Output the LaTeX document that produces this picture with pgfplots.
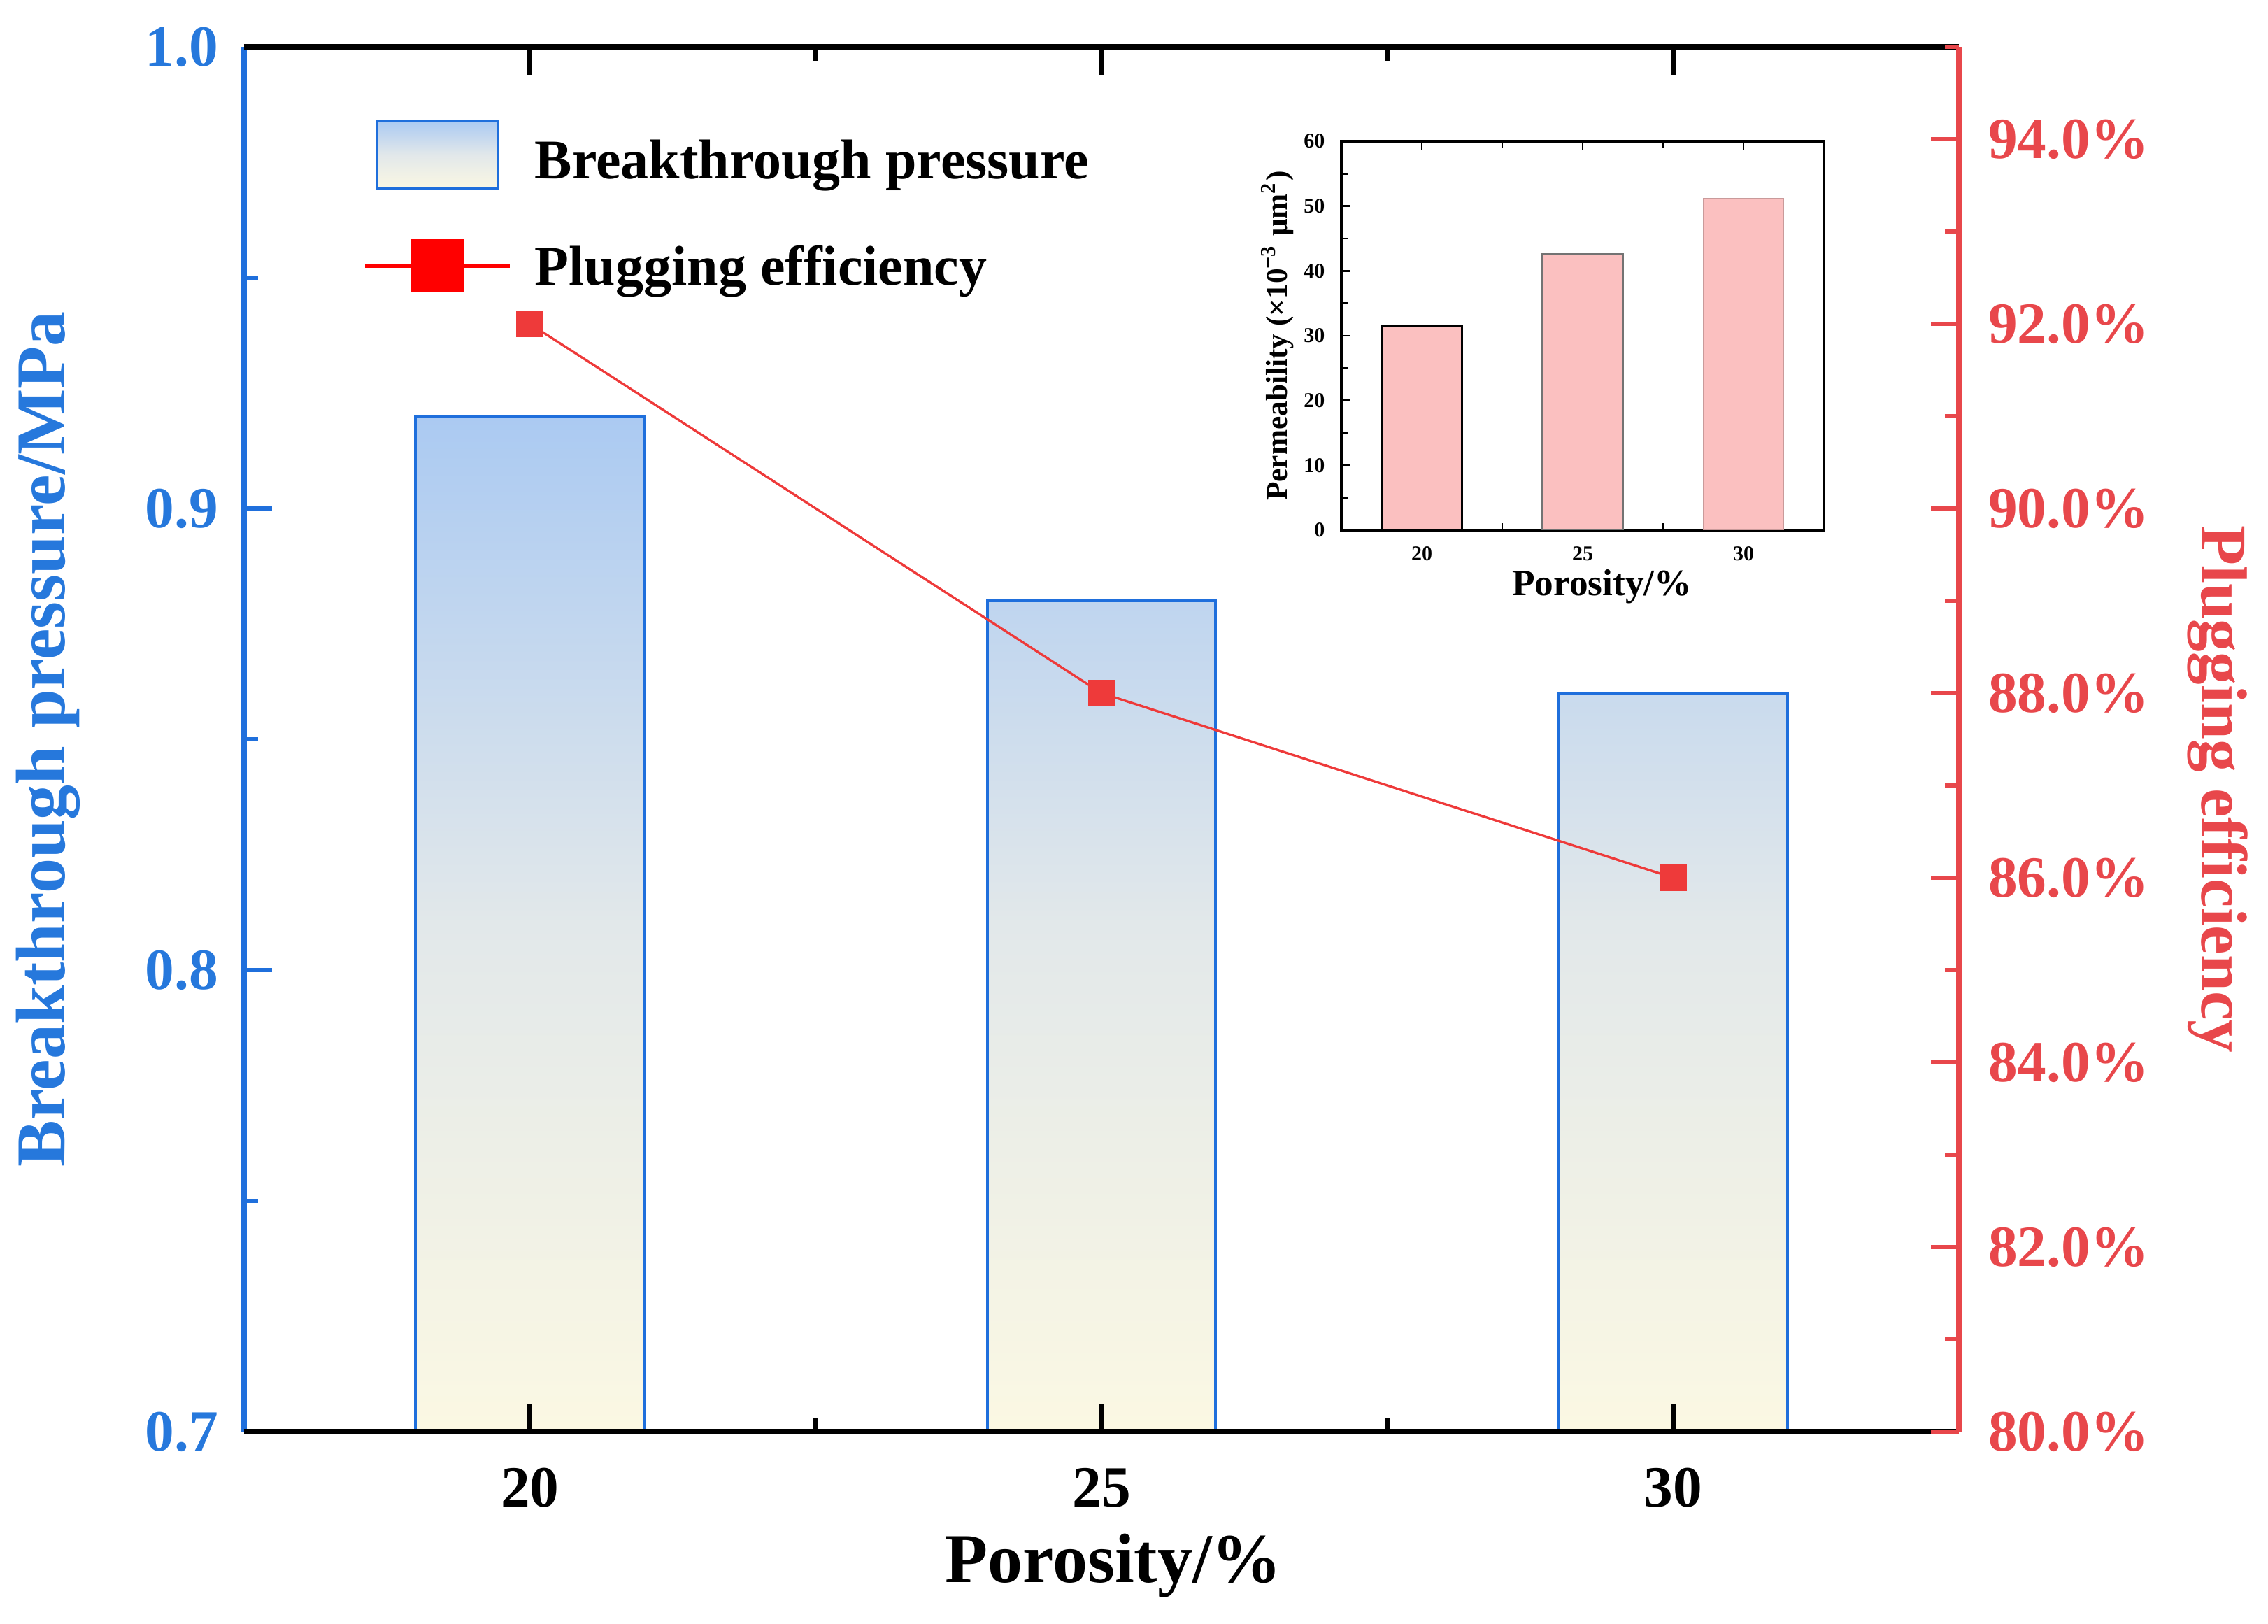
\documentclass[border=0pt]{standalone}
\usepackage{fontspec}
\setmainfont{Liberation Serif}
\usepackage{pgfplots}
\pgfplotsset{compat=1.18}
\definecolor{axblue}{HTML}{1F6FDC}
\definecolor{lblblue}{HTML}{2678DC}
\definecolor{axred}{HTML}{E8474B}
\definecolor{lnred}{HTML}{EE3A3A}
\definecolor{bartop}{HTML}{ABCAF2}
\definecolor{barmid}{HTML}{E2E8EA}
\definecolor{barbot}{HTML}{FBF8E3}
\definecolor{pinkbar}{HTML}{FBC0C0}
\begin{document}
\begin{tikzpicture}
\path[use as bounding box] (-52.35pt,-41.1pt) rectangle (434.1pt,307.05pt);
\pgfplotsset{
  base/.style={scale only axis, width=367.8pt, height=297pt, xmin=17.5, xmax=32.5,
    major tick length=6pt, minor tick length=3pt, tick align=inside},
}
% Axis B: bars and left axis
\begin{axis}[base, ymin=0.7, ymax=1.0,
  y coord trafo/.code={\pgfmathparse{#1-0.7}},
  y coord inv trafo/.code={\pgfmathparse{#1+0.7}},
  axis y line*=left, axis x line=none,
  ytick={0.7,0.8,0.9,1.0}, yticklabels={0.7,0.8,0.9,1.0},
  minor ytick={0.75,0.85,0.95},
  y axis line style={-, axblue, line width=1.3pt},
  tick style={axblue, line width=1pt},
  yticklabel style={font=\fontsize{12.5}{15}\selectfont\bfseries, text=lblblue, xshift=-2pt},
  ylabel={Breakthrough pressure/MPa},
  ylabel style={font=\fontsize{15}{18}\selectfont\bfseries, text=lblblue, at={(axis description cs:-0.1142,0.5)}, anchor=center},
]
\addplot[ybar, bar width=2, draw=axblue, line width=0.6pt, top color=bartop, bottom color=barbot, middle color=barmid] coordinates {(20,0.92) (25,0.88) (30,0.86)};
\end{axis}
% Axis A: black x frame
\begin{axis}[base, ymin=0, ymax=1,
  axis x line*=box, axis y line=none,
  xtick={20,25,30}, xticklabels={20,25,30}, minor xtick={22.5,27.5},
  x axis line style={-, black, line width=1.2pt},
  tick style={black, line width=1pt},
  xticklabel style={font=\fontsize{12.5}{15}\selectfont\bfseries, yshift=-4.3pt},
  xlabel={Porosity/\%},
  xlabel style={font=\fontsize{15}{18}\selectfont\bfseries, at={(axis description cs:0.507,-0.097)}, anchor=center},
]
\end{axis}
% Axis C: right axis, line
\begin{axis}[base, ymin=80, ymax=95,
  axis y line*=right, axis x line=none,
  ytick={80,82,84,86,88,90,92,94},
  yticklabels={80.0\%,82.0\%,84.0\%,86.0\%,88.0\%,90.0\%,92.0\%,94.0\%},
  minor ytick={81,83,85,87,89,91,93,95},
  y axis line style={-, axred, line width=1.1pt},
  tick style={axred, line width=1pt},
  yticklabel style={font=\fontsize{12.5}{15}\selectfont\bfseries, text=axred, xshift=2.8pt},
  ylabel={Plugging efficiency},
  every axis y label/.style={at={(axis description cs:1.151,0.464)}, rotate=-90, anchor=center, font=\fontsize{14}{16}\selectfont\bfseries, text=axred},
  legend cell align=left,
  legend style={draw=none, fill=none, at={(axis description cs:0.069,0.948)}, anchor=north west,
    font=\fontsize{12}{14}\selectfont\bfseries, row sep=8.8pt, inner sep=0pt},
]
\addlegendimage{legend image code/.code={\path[draw=none, fill=none] (0pt,0pt) -- (34.4pt,0pt); \draw[draw=axblue, line width=0.6pt, top color=bartop, bottom color=barbot, middle color=barmid] (2.5pt,-5.55pt) rectangle (28.5pt,8.95pt);}}
\addlegendentry{Breakthrough pressure}
\addplot[lnred, line width=0.5pt, mark=square*, mark size=2.65pt, mark options={fill=lnred, draw=lnred},
  legend image code/.code={\path[draw=none, fill=none] (0pt,0pt) -- (34.4pt,0pt); \draw[red, line width=0.8pt] (0pt,0.65pt) -- (31pt,0.65pt); \fill[red] (10pt,-4.75pt) rectangle (21pt,6.05pt);}]
  coordinates {(20,92) (25,88) (30,86)};
\addlegendentry{Plugging efficiency}
\end{axis}
% Inset
\begin{axis}[at={(235.35pt,193.35pt)}, anchor=south west, scale only axis, width=103.5pt, height=83.4pt,
  xmin=17.5, xmax=32.5, ymin=0, ymax=60,
  axis line style={black, line width=0.5pt},
  tick align=inside, major tick length=2pt, minor tick length=1.5pt, tick style={black, line width=0.4pt},
  xtick={20,25,30}, xticklabels={20,25,30}, minor xtick={22.5,27.5},
  ytick={0,10,20,30,40,50,60}, yticklabels={0,10,20,30,40,50,60}, minor ytick={5,15,25,35,45,55},
  ytick pos=left,
  xticklabel style={font=\fontsize{4.5}{5}\selectfont\bfseries},
  yticklabel style={font=\fontsize{4.5}{5}\selectfont\bfseries},
  xlabel={Porosity/\%},
  xlabel style={font=\fontsize{8}{9}\selectfont\bfseries, at={(axis description cs:0.54,-0.146)}, anchor=center},
  ylabel={Permeability (×10\textsuperscript{−3} μm\textsuperscript{2})},
  ylabel style={font=\fontsize{6.5}{7.5}\selectfont\bfseries, at={(axis description cs:-0.132,0.5)}, anchor=center},
]
\addplot[ybar, bar width=2.5, bar shift=0pt, fill=pinkbar, draw=black, line width=0.5pt] coordinates {(20,31.5)};
\addplot[ybar, bar width=2.5, bar shift=0pt, fill=pinkbar, draw=black!55, line width=0.4pt] coordinates {(25,42.6)};
\addplot[ybar, bar width=2.5, bar shift=0pt, fill=pinkbar, draw=pinkbar!80!black, line width=0.2pt] coordinates {(30,51.2)};
\end{axis}
\end{tikzpicture}
\end{document}
